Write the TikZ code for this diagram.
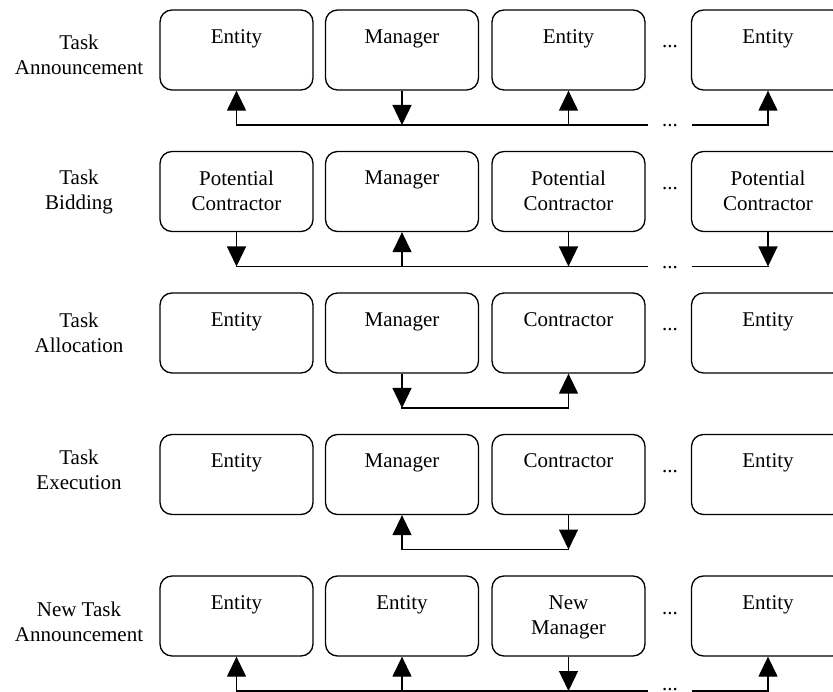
\documentclass[tikz,border=0pt]{standalone}
\usepackage{fontspec}
\setmainfont{Liberation Serif}
\usetikzlibrary{arrows.meta, positioning}

\tikzset{
  ebox/.style={draw, line width=1.3pt, rounded corners=12pt, minimum width=153pt, minimum height=80pt, inner sep=0pt},
  etext/.style={inner sep=0pt, align=center, font=\fontsize{21}{25}\selectfont},
  rowlbl/.style={inner sep=0pt, align=center, font=\fontsize{21}{24.5}\selectfont},
  gapdots/.style={inner sep=0pt, anchor=base, font=\fontsize{21}{24}\selectfont},
  wire/.style={line width=1.3pt, line cap=rect},
  flow/.style={line width=1.3pt, -{Triangle[width=19pt,length=20pt]}},
}

\begin{document}
\begin{tikzpicture}[x=1pt,y=1pt]
  \useasboundingbox (0,-692) rectangle (833,0);
  \clip (0,-692) rectangle (833,0);

  % boxes and the dots between column 3 and 4
  \foreach \r in {1,...,5} {
    \foreach \c/\cx in {1/236.5, 2/402, 3/568.5, 4/768}
      \node[ebox] (b\r\c) at (\cx,{-50-141.5*(\r-1)}) {};
    \node[gapdots] (d\r) at (670,{-48-141.5*(\r-1)}) {...};
    \coordinate (h\r) at (0,{-125-141.5*(\r-1)});
    \coordinate (g\r) at (647,{-125-141.5*(\r-1)});
    \coordinate (k\r) at (693,{-125-141.5*(\r-1)});
  }
  \node[gapdots] (e1) at (670,-127) {...};
  \node[gapdots] (e2) at (670,-268.5) {...};
  \node[gapdots] (e5) at (670,-690) {...};

  % row labels
  \node[rowlbl] (l1) at (79,-55) {Task\\Announcement};
  \node[rowlbl] (l2) at (79,-192) {Task\\Bidding};
  \node[rowlbl] (l3) at (79,-333) {Task\\Allocation};
  \node[rowlbl] (l4) at (79,-470) {Task\\Execution};
  \node[rowlbl] (l5) at (79,-622) {New Task\\Announcement};

  % box texts
  \node[etext, below=20pt of b11.north] (t11) {Entity};
  \node[etext, below=20pt of b12.north] (t12) {Manager};
  \node[etext, below=20pt of b13.north] (t13) {Entity};
  \node[etext, below=20pt of b14.north] (t14) {Entity};
  \node[etext, below=20pt of b21.north] (t21) {Potential\\Contractor};
  \node[etext, below=20pt of b22.north] (t22) {Manager};
  \node[etext, below=20pt of b23.north] (t23) {Potential\\Contractor};
  \node[etext, below=20pt of b24.north] (t24) {Potential\\Contractor};
  \node[etext, below=20pt of b31.north] (t31) {Entity};
  \node[etext, below=20pt of b32.north] (t32) {Manager};
  \node[etext, below=20pt of b33.north] (t33) {Contractor};
  \node[etext, below=20pt of b34.north] (t34) {Entity};
  \node[etext, below=20pt of b41.north] (t41) {Entity};
  \node[etext, below=20pt of b42.north] (t42) {Manager};
  \node[etext, below=20pt of b43.north] (t43) {Contractor};
  \node[etext, below=20pt of b44.north] (t44) {Entity};
  \node[etext, below=20pt of b51.north] (t51) {Entity};
  \node[etext, below=20pt of b52.north] (t52) {Entity};
  \node[etext, below=20pt of b53.north] (t53) {New\\Manager};
  \node[etext, below=20pt of b54.north] (t54) {Entity};

  % announcement
  \draw[wire] (b11.south |- h1) -- (g1);
  \draw[wire] (k1) -- (b14.south |- h1);
  \draw[flow] (b11.south |- h1) -- (b11.south);
  \draw[flow] (b12.south) -- (b12.south |- h1);
  \draw[flow] (b13.south |- h1) -- (b13.south);
  \draw[flow] (b14.south |- h1) -- (b14.south);

  % bidding
  \draw[wire] (b21.south |- h2) -- (g2);
  \draw[wire] (k2) -- (b24.south |- h2);
  \draw[flow] (b21.south) -- (b21.south |- h2);
  \draw[flow] (b22.south |- h2) -- (b22.south);
  \draw[flow] (b23.south) -- (b23.south |- h2);
  \draw[flow] (b24.south) -- (b24.south |- h2);

  % allocation
  \draw[wire] (b32.south |- h3) -- (b33.south |- h3);
  \draw[flow] (b32.south) -- (b32.south |- h3);
  \draw[flow] (b33.south |- h3) -- (b33.south);

  % execution
  \draw[wire] (b42.south |- h4) -- (b43.south |- h4);
  \draw[flow] (b43.south) -- (b43.south |- h4);
  \draw[flow] (b42.south |- h4) -- (b42.south);

  % new announcement
  \draw[wire] (b51.south |- h5) -- (g5);
  \draw[wire] (k5) -- (b54.south |- h5);
  \draw[flow] (b51.south |- h5) -- (b51.south);
  \draw[flow] (b52.south |- h5) -- (b52.south);
  \draw[flow] (b53.south) -- (b53.south |- h5);
  \draw[flow] (b54.south |- h5) -- (b54.south);
\end{tikzpicture}
\end{document}
